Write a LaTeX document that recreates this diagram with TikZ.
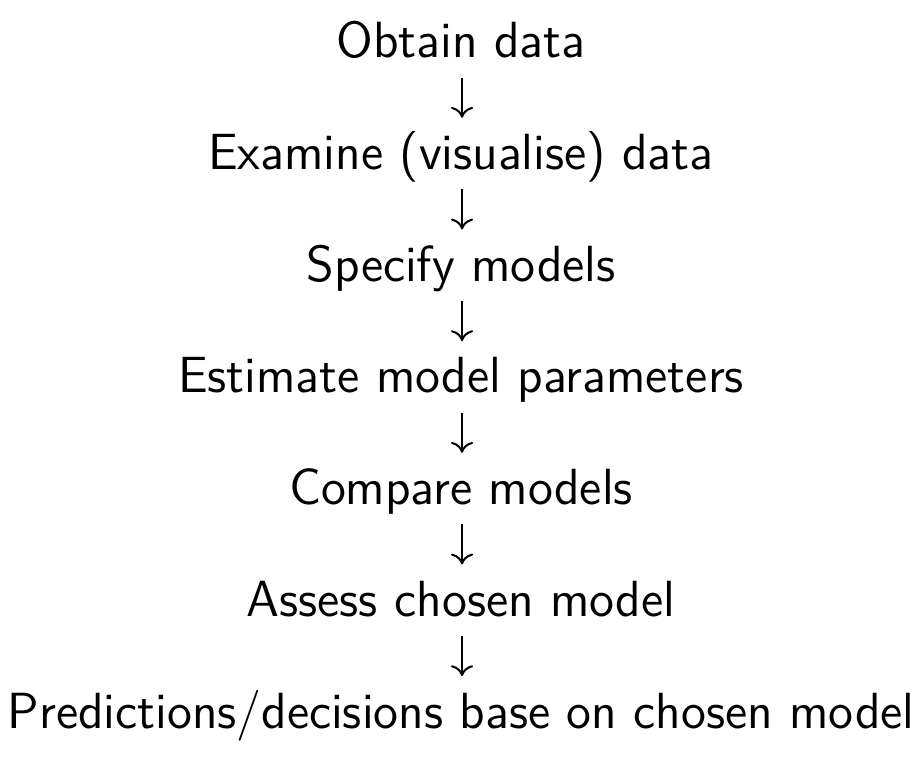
\documentclass[tikz,border=0pt]{standalone}
\usetikzlibrary{arrows.meta, positioning}
\begin{document}
\begin{tikzpicture}[x=0.01cm, y=-0.01cm, node distance=6.5mm, >={To[length=3.1pt,width=6.3pt]}]
\tikzset{
    stage/.style={inner sep=0pt, text height=10pt, text depth=2.86pt, font=\fontsize{14.45}{17}\selectfont\sffamily},
    flow/.style={->, line width=0.57pt, shorten <=0.9mm, shorten >=1.6mm},
  }
\useasboundingbox (0,0) rectangle (920,758);
\node (obtain) [stage, anchor=base] at (461,58) {Obtain data};
\node (examine) [stage, below=of obtain] {Examine (visualise) data};
\node (specify) [stage, below=of examine] {Specify models};
\node (estimate) [stage, below=of specify] {Estimate model parameters};
\node (compare) [stage, below=of estimate] {Compare models};
\node (assess) [stage, below=of compare] {Assess chosen model};
\node (predict) [stage, below=of assess] {Predictions/decisions base on chosen model};
\foreach \from/\to in {obtain/examine, examine/specify, specify/estimate, estimate/compare, compare/assess, assess/predict}
  \draw[flow] ([xshift=0.3pt]\from.south) -- ([xshift=0.3pt]\to.north);
\end{tikzpicture}
\end{document}
